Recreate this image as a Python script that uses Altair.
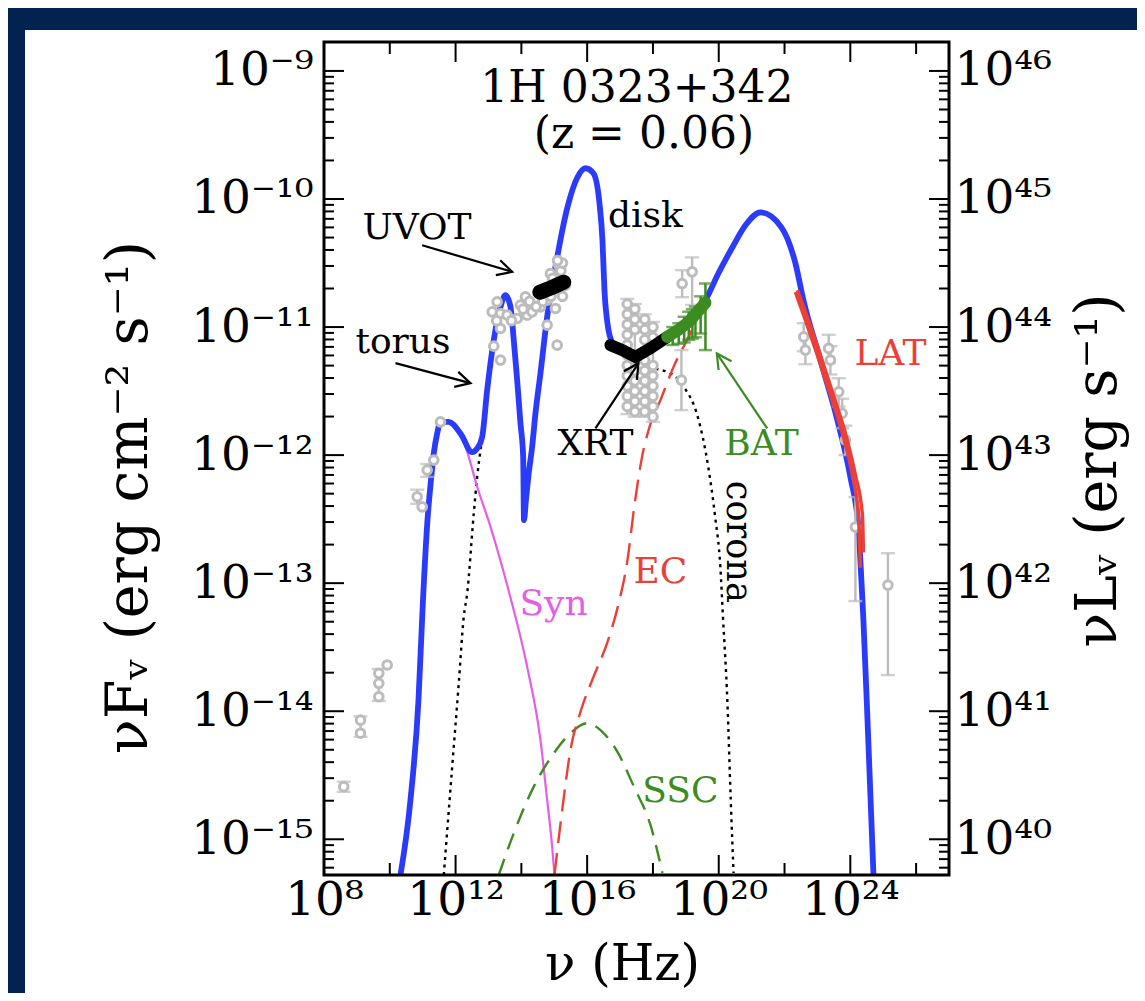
import math
import altair as alt
import pandas as pd

# ---------------- values ----------------
# all curves: log10(nu / Hz) and log10(nu F_nu / erg cm^-2 s^-1)
total_lognu = [10.325, 10.629, 10.872, 11.009, 11.146, 11.252, 11.337, 11.441, 11.541, 11.793,
               12.149, 12.505, 12.657, 12.809, 12.960, 13.161, 13.365, 13.517, 13.669, 13.769,
               13.872, 13.973, 14.055, 14.079, 14.140, 14.225, 14.328, 14.429, 14.581, 14.784,
               15.036, 15.401, 15.705, 15.948, 16.191, 16.374, 16.465, 16.526, 16.617, 16.769,
               17.012, 17.468, 17.924, 18.441, 18.988, 19.596, 19.991, 20.416, 20.812, 21.267,
               21.906, 22.331, 22.575, 23.091, 23.608, 24.003, 24.246, 24.337, 24.398, 24.538,
               24.702]
total_logf = [-15.279, -14.693, -13.913, -13.132, -12.507, -12.195, -11.987, -11.831, -11.740, -11.740,
              -11.831, -11.977, -11.948, -11.857, -11.493, -11.102, -10.842, -10.751, -10.842, -11.102,
              -11.414, -11.753, -12.013, -12.507, -12.351, -12.140, -11.935, -11.672, -11.360, -10.920,
              -10.530, -10.064, -9.830, -9.760, -9.799, -10.033, -10.322, -10.712, -10.970, -11.126,
              -11.180, -11.219, -11.157, -11.079, -10.962, -10.790, -10.580, -10.377, -10.205, -10.104,
              -10.221, -10.502, -10.791, -11.259, -11.728, -12.173, -12.563, -12.977, -13.289, -14.170,
              -15.264]

syn_lognu = [10.325, 10.629, 10.872, 11.009, 11.146, 11.252, 11.337, 11.441, 11.541, 11.793,
             12.149, 12.356, 12.657, 13.062, 13.608, 14.176, 14.581, 14.784, 14.936, 15.006]
syn_logf = [-15.279, -14.693, -13.913, -13.132, -12.507, -12.195, -11.987, -11.831, -11.740, -11.740,
            -11.831, -11.977, -12.247, -12.560, -13.054, -13.653, -14.226, -14.693, -15.058, -15.279]

torus_lognu = [11.641, 11.897, 12.097, 12.249, 12.353, 12.553, 12.657, 12.757, 12.878, 12.970,
               13.161, 13.365, 13.517, 13.669, 13.769, 13.872, 13.973, 14.055]
torus_logf = [-15.279, -14.433, -13.782, -13.262, -13.080, -12.455, -12.169, -11.961, -11.727, -11.500,
              -11.110, -10.850, -10.760, -10.850, -11.110, -11.420, -11.760, -12.020]

corona_lognu = [17.164, 17.924, 18.532, 18.939, 19.362, 19.681, 19.891, 20.049, 20.128, 20.261,
                20.365, 20.450]
corona_logf = [-11.323, -11.323, -11.362, -11.467, -11.701, -12.091, -12.482, -12.872, -13.262, -13.912,
               -14.693, -15.263]

ec_lognu = [15.006, 15.280, 15.492, 15.796, 16.191, 16.617, 16.921, 17.225, 17.438, 17.650,
            17.894, 18.228, 18.623, 19.140, 19.596]
ec_logf = [-15.279, -14.693, -14.303, -14.006, -13.733, -13.460, -13.195, -12.820, -12.391, -12.039,
           -11.782, -11.571, -11.313, -11.048, -10.790]

ssc_lognu = [13.313, 13.769, 14.377, 14.985, 15.492, 16.000, 16.404, 16.921, 17.438, 17.924, 18.289]
ssc_logf = [-15.279, -14.953, -14.589, -14.329, -14.172, -14.094, -14.147, -14.318, -14.599, -14.888, -15.263]

lat_hi_lognu = [22.331, 22.635, 22.999, 23.395, 23.790, 24.064, 24.246, 24.307]
lat_hi_logf = [-10.727, -10.946, -11.219, -11.531, -11.859, -12.156, -12.468, -12.880]
lat_lo_lognu = [22.392, 22.726, 23.091, 23.486, 23.881, 24.155, 24.368, 24.398]
lat_lo_logf = [-10.712, -10.946, -11.219, -11.531, -11.859, -12.156, -12.468, -12.760]

xrt_lognu = [16.708, 17.073, 17.468, 17.924, 18.432]
xrt_logf = [-11.141, -11.180, -11.233, -11.165, -11.077]

uvot_lognu = [14.560, 14.945, 15.290]
uvot_logf = [-10.728, -10.689, -10.650]

bat_lognu = [18.432, 18.784, 19.088, 19.292, 19.596]
bat_logf = [-11.077, -11.020, -10.960, -10.900, -10.810]
bat_err_lognu = [18.60, 18.784, 18.95, 19.088, 19.20, 19.292, 19.45, 19.596]
bat_err_lo = [-11.14, -11.13, -11.12, -11.10, -11.09, -11.08, -11.05, -11.18]
bat_err_hi = [-11.00, -10.97, -10.92, -10.88, -10.86, -10.84, -10.76, -10.66]

# archival (grey) data points
arch_lognu = [8.600, 9.109, 9.109, 9.666, 9.666, 9.666, 9.921,
              10.833, 10.985, 11.137, 11.337, 11.541,
              13.112, 13.264, 13.365, 13.568, 13.365, 13.161, 13.365, 13.872, 13.973, 14.125,
              14.176, 14.328, 14.581, 14.784, 15.036, 14.784, 15.088, 14.884, 15.137, 15.188, 15.340,
              14.05, 14.25, 14.45, 14.65, 14.90, 15.10, 15.20, 15.25, 14.95, 13.70, 13.25, 15.25, 15.10,
              17.22, 17.22, 17.22, 17.22, 17.22, 17.22, 17.22, 17.22, 17.22, 17.22, 17.22,
              17.45, 17.45, 17.45, 17.45, 17.45, 17.45, 17.45, 17.45, 17.45,
              17.75, 17.75, 17.75, 17.75, 17.75, 17.75, 17.75, 17.75, 17.75,
              18.00, 18.00, 18.00, 18.00, 18.00, 18.00, 18.00, 18.00,
              19.191, 18.888, 18.866,
              22.584, 22.635, 23.343, 23.395, 23.647, 23.751, 23.851, 24.155, 25.143]
arch_logf = [-14.589, -14.070, -14.172, -13.704, -13.782, -13.887, -13.639,
             -12.325, -12.404, -12.117, -12.039, -11.740,
             -10.881, -10.803, -10.894, -10.907, -11.011, -11.149, -11.258, -10.933, -10.829, -10.764,
             -10.907, -10.881, -10.842, -10.790, -10.855, -10.985, -11.141, -10.582, -10.517, -10.618, -10.673,
             -10.86, -10.80, -10.84, -10.80, -10.76, -10.70, -10.56, -10.76, -10.62, -10.95, -10.95, -10.50, -10.48,
             -10.82, -10.90, -10.98, -11.06, -11.14, -11.22, -11.30, -11.38, -11.46, -11.54, -11.62,
             -10.86, -10.94, -11.02, -11.26, -11.34, -11.42, -11.50, -11.58, -11.66,
             -10.94, -11.02, -11.10, -11.26, -11.34, -11.42, -11.50, -11.58, -11.66,
             -11.00, -11.08, -11.30, -11.38, -11.46, -11.54, -11.62, -11.70,
             -10.569, -10.660, -11.414,
             -11.077, -11.180, -11.167, -11.258, -11.506, -11.674, -11.882, -12.562, -13.015]
arch_err_lognu = [8.600, 9.109, 9.666, 10.833, 11.137, 17.22, 17.45, 17.75, 18.00, 19.191, 18.888, 18.866,
                  22.584, 22.635, 23.343, 23.395, 23.647, 23.751, 23.851, 24.155, 25.143]
arch_err_lo = [-14.63, -14.20, -13.92, -12.38, -12.17, -11.68, -11.70, -11.70, -11.74, -10.827, -10.767, -11.649,
               -11.19, -11.29, -11.28, -11.37, -11.62, -11.79, -12.00, -13.140, -13.718]
arch_err_hi = [-14.55, -14.04, -13.67, -12.27, -12.07, -10.78, -10.82, -10.90, -10.96, -10.456, -10.556, -11.180,
               -10.97, -11.07, -11.06, -11.15, -11.40, -11.56, -11.77, -12.328, -12.766]

# labels inside the plot
ann_text = ["UVOT", "disk", "torus", "XRT", "BAT", "LAT", "EC", "Syn", "SSC"]
ann_lognu = [10.827, 17.772, 10.401, 16.252, 21.298, 25.219, 18.228, 14.976, 18.836]
ann_logf = [-10.309, -10.221, -11.205, -11.997, -11.997, -11.297, -13.001, -13.250, -14.706]
head_text = ["1H 0323+342", "(z = 0.06)"]
head_lognu = [17.514, 17.726]
head_logf = [-9.245, -9.603]
corona_text = ["corona"]
corona_lab_lognu = [20.599]
corona_lab_logf = [-12.677]

# arrows: tail -> head
arrow_name = ["UVOT", "torus", "XRT", "BAT"]
arrow_tail_lognu = [10.985, 10.173, 16.252, 21.474]
arrow_tail_logf = [-10.361, -11.282, -11.791, -11.792]
arrow_head_lognu = [13.720, 12.453, 17.559, 19.942]
arrow_head_logf = [-10.569, -11.438, -11.283, -11.206]

x_label_exps = [8, 12, 16, 20, 24]
x_minor_exps = [10, 14, 18, 22, 26]
y_label_exps = [-15, -14, -13, -12, -11, -10, -9]
lum_label_exps = [40, 41, 42, 43, 44, 45, 46]

# ---------------- layout / style ----------------
FONT = "DejaVu Serif"
W, H = 625, 833
XMIN, XMAX = 8.0, 27.0
YMIN, YMAX = -15.279, -8.774
LUM_SHIFT = 55.0
PAD_L, PAD_T = 316, 34
PAGE_W, PAGE_H = 1129, 985
NAVY = "#022350"
BLUE = "#2a3cfa"
MAGENTA = "#e65ee6"
RED = "#ea4038"
GREEN = "#3c8c22"
GREY = "#bcbcbc"
PX_X = W / (XMAX - XMIN)
PX_Y = H / (YMAX - YMIN)

colour_of = {"UVOT": "black", "disk": "black", "torus": "black", "XRT": "black", "BAT": GREEN,
             "LAT": RED, "EC": RED, "Syn": MAGENTA, "SSC": GREEN}

SUP = str.maketrans("-0123456789", "⁻⁰¹²³⁴⁵⁶⁷⁸⁹")


def pow_label(e):
    return "10" + str(e).translate(SUP)


def label_expr(exps):
    parts = [f"abs(log(datum.value)/LN10 - ({e})) < 0.01 ? '{pow_label(e)}'" for e in exps]
    return " : ".join(parts) + " : ''"


common_axis = dict(ticks=False, tickSize=0, domain=False, grid=False, labelFont=FONT, labelFontSize=47,
                   labelColor="black", labelFlush=False, labelOverlap=False, titleFont=FONT,
                   titleFontWeight="normal", titleColor="black", zindex=1)

xaxis = alt.Axis(values=[10.0 ** e for e in x_label_exps], labelExpr=label_expr(x_label_exps),
                 labelPadding=2, title="ν (Hz)", titleFontSize=50, titleX=298, titleY=104,
                 titleAlign="center", titleBaseline="alphabetic", titleAngle=0, **common_axis)
yaxis = alt.Axis(values=[10.0 ** e for e in y_label_exps], labelExpr=label_expr(y_label_exps),
                 labelPadding=11, title="νFᵥ (erg cm⁻² s⁻¹)", titleFontSize=57, titleX=-178, titleY=455,
                 titleAlign="center", titleBaseline="alphabetic", titleAngle=270, **common_axis)
raxis = alt.Axis(values=[10.0 ** e for e in lum_label_exps], labelExpr=label_expr(lum_label_exps),
                 labelPadding=5, orient="right", title="νLᵥ (erg s⁻¹)", titleFontSize=57, titleX=166,
                 titleY=428, titleAlign="center", titleBaseline="alphabetic", titleAngle=270, **common_axis)

xs = alt.Scale(type="log", domain=[10 ** XMIN, 10 ** XMAX], nice=False)
ys = alt.Scale(type="log", domain=[10 ** YMIN, 10 ** YMAX], nice=False)
ls = alt.Scale(type="log", domain=[10 ** (YMIN + LUM_SHIFT), 10 ** (YMAX + LUM_SHIFT)], nice=False)


def X(f):
    return alt.X(f, type="quantitative", scale=xs, axis=xaxis)


def Y(f):
    return alt.Y(f, type="quantitative", scale=ys, axis=yaxis)


def curve_df(lognu, logf):
    return pd.DataFrame({"nu": [10 ** v for v in lognu], "f": [10 ** v for v in logf],
                         "i": list(range(len(lognu)))})


def curve(lognu, logf, color, width, dash=None, interp="monotone", cap="butt"):
    kw = dict(color=color, strokeWidth=width, interpolate=interp, strokeCap=cap, clip=True)
    if dash:
        kw["strokeDash"] = dash
    return alt.Chart(curve_df(lognu, logf)).mark_line(**kw).encode(
        x=X("nu"), y=Y("f"), order=alt.Order("i:Q"))


def err_layers(lognu, lo, hi, color, width, cap):
    df = pd.DataFrame({"nu": [10 ** v for v in lognu], "lo": [10 ** v for v in lo],
                       "hi": [10 ** v for v in hi]})
    bars = alt.Chart(df).mark_rule(color=color, strokeWidth=width).encode(x=X("nu"), y=Y("lo"), y2="hi")
    c1 = alt.Chart(df).mark_tick(orient="horizontal", size=cap, thickness=width, color=color).encode(
        x=X("nu"), y=Y("lo"))
    c2 = alt.Chart(df).mark_tick(orient="horizontal", size=cap, thickness=width, color=color).encode(
        x=X("nu"), y=Y("hi"))
    return [bars, c1, c2]


one_row = pd.DataFrame({"a": [0]})
panel = alt.Chart(one_row).mark_rect(color="white").encode(
    x=alt.value(25 - 8 - PAD_L), x2=alt.value(PAGE_W + 40), y=alt.value(30 - 8 - PAD_T), y2=alt.value(PAGE_H + 40))

# tick marks (inside the frame)
xt_major = pd.DataFrame({"nu": [10.0 ** e for e in x_label_exps]})
xt_minor = pd.DataFrame({"nu": [10.0 ** e for e in x_minor_exps]})
y_major_vals = [10.0 ** e for e in y_label_exps]
y_minor_vals = [k * 10.0 ** e for e in range(-16, -8) for k in range(2, 10)
                if YMIN < math.log10(k * 10.0 ** e) < YMAX]
yt_major = pd.DataFrame({"f": y_major_vals})
yt_minor = pd.DataFrame({"f": y_minor_vals})
lt_major = pd.DataFrame({"L": [v * 10 ** LUM_SHIFT for v in y_major_vals]})
lt_minor = pd.DataFrame({"L": [v * 10 ** LUM_SHIFT for v in y_minor_vals]})

tick_layers = []
for df, ln in ((xt_major, 20), (xt_minor, 12)):
    tick_layers.append(alt.Chart(df).mark_rule(color="black", strokeWidth=2).encode(
        x=X("nu"), y=alt.value(H), y2=alt.value(H - ln)))
    tick_layers.append(alt.Chart(df).mark_rule(color="black", strokeWidth=2).encode(
        x=X("nu"), y=alt.value(0), y2=alt.value(ln)))
for df, ln in ((yt_major, 20), (yt_minor, 10)):
    tick_layers.append(alt.Chart(df).mark_rule(color="black", strokeWidth=2).encode(
        y=Y("f"), x=alt.value(0), x2=alt.value(ln)))

# components
torus = curve(torus_lognu, torus_logf, "black", 2.4, dash=[3, 4.5])
corona = curve(corona_lognu, corona_logf, "black", 2.4, dash=[3, 4.5])
syn = curve(syn_lognu, syn_logf, MAGENTA, 2.2)
ssc = curve(ssc_lognu, ssc_logf, GREEN, 2.4, dash=[17, 10])
ec = curve(ec_lognu, ec_logf, RED, 2.4, dash=[22, 10])
total = curve(total_lognu, total_logf, BLUE, 5.8, cap="round")

# archival data
arch_df = curve_df(arch_lognu, arch_logf)
arch_err = err_layers(arch_err_lognu, arch_err_lo, arch_err_hi, GREY, 2.4, 14)
arch_pts = alt.Chart(arch_df).mark_point(shape="circle", filled=True, fill="white", stroke=GREY,
                                         strokeWidth=3, size=75, opacity=1).encode(x=X("nu"), y=Y("f"))

# instruments
lat_hi = curve(lat_hi_lognu, lat_hi_logf, RED, 3.5)
lat_lo = curve(lat_lo_lognu, lat_lo_logf, RED, 3.5)
xrt = curve(xrt_lognu, xrt_logf, "black", 12, interp="linear", cap="round")
uvot = curve(uvot_lognu, uvot_logf, "black", 15, interp="linear", cap="round")
bat = curve(bat_lognu, bat_logf, GREEN, 12, interp="linear", cap="round")
bat_err = err_layers(bat_err_lognu, bat_err_lo, bat_err_hi, GREEN, 2.5, 13)

# arrows
angles = []
for tn, tf, hn, hf in zip(arrow_tail_lognu, arrow_tail_logf, arrow_head_lognu, arrow_head_logf):
    dx = (hn - tn) * PX_X
    dy = -(hf - tf) * PX_Y
    angles.append(math.degrees(math.atan2(dy, dx)) % 360)
arrow_df = pd.DataFrame({
    "nu": [10 ** v for v in arrow_tail_lognu], "f": [10 ** v for v in arrow_tail_logf],
    "nu2": [10 ** v for v in arrow_head_lognu], "f2": [10 ** v for v in arrow_head_logf],
    "c": [colour_of[n] for n in arrow_name], "ang": angles})
arrow_lines = alt.Chart(arrow_df).mark_rule(strokeWidth=2.2).encode(
    x=X("nu"), y=Y("f"), x2="nu2", y2="f2", color=alt.Color("c:N", scale=None))
arrow_heads = alt.Chart(arrow_df).mark_point(shape="M -1.7 -0.9 L 0 0 L -1.7 0.9", filled=False,
                                             size=300, strokeWidth=2.2, opacity=1).encode(
    x=X("nu2"), y=Y("f2"), color=alt.Color("c:N", scale=None), angle=alt.Angle("ang:Q", scale=None))

# text
ann_df = pd.DataFrame({"t": ann_text, "nu": [10 ** v for v in ann_lognu], "f": [10 ** v for v in ann_logf],
                       "c": [colour_of[t] for t in ann_text]})
ann = alt.Chart(ann_df).mark_text(font=FONT, fontSize=36, align="center", baseline="alphabetic").encode(
    x=X("nu"), y=Y("f"), text="t:N", color=alt.Color("c:N", scale=None))
head_df = pd.DataFrame({"t": head_text, "nu": [10 ** v for v in head_lognu], "f": [10 ** v for v in head_logf]})
head = alt.Chart(head_df).mark_text(font=FONT, fontSize=44, align="center", baseline="alphabetic",
                                    color="black").encode(x=X("nu"), y=Y("f"), text="t:N")
cor_df = pd.DataFrame({"t": corona_text, "nu": [10 ** v for v in corona_lab_lognu],
                       "f": [10 ** v for v in corona_lab_logf]})
cor = alt.Chart(cor_df).mark_text(font=FONT, fontSize=35, align="center", baseline="middle", angle=90,
                                  color="black").encode(x=X("nu"), y=Y("f"), text="t:N")

frame = alt.Chart(one_row).mark_rect(fillOpacity=0, stroke="black", strokeWidth=3).encode(
    x=alt.value(0), x2=alt.value(W), y=alt.value(0), y2=alt.value(H))

main = alt.layer(panel, *tick_layers, torus, corona, syn, ssc, ec, total,
                 *arch_err, arch_pts,
                 lat_hi, lat_lo, xrt, uvot, bat, *bat_err,
                 arrow_lines, arrow_heads, ann, head, cor, frame)

r_major = alt.Chart(lt_major).mark_rule(color="black", strokeWidth=2).encode(
    y=alt.Y("L", type="quantitative", scale=ls, axis=raxis), x=alt.value(W), x2=alt.value(W - 20))
r_minor = alt.Chart(lt_minor).mark_rule(color="black", strokeWidth=2).encode(
    y=alt.Y("L", type="quantitative", scale=ls, axis=raxis), x=alt.value(W), x2=alt.value(W - 10))
right = alt.layer(r_major, r_minor)

chart = alt.layer(main, right).resolve_scale(y="independent").properties(
    width=W, height=H,
    padding={"left": PAD_L, "top": PAD_T, "right": PAGE_W - PAD_L - W, "bottom": PAGE_H - PAD_T - H},
    autosize=alt.AutoSizeParams(type="none"),
    background=NAVY,
).configure_view(strokeWidth=0)

chart.save("out.html", embed_options={"renderer": "svg", "actions": False})
